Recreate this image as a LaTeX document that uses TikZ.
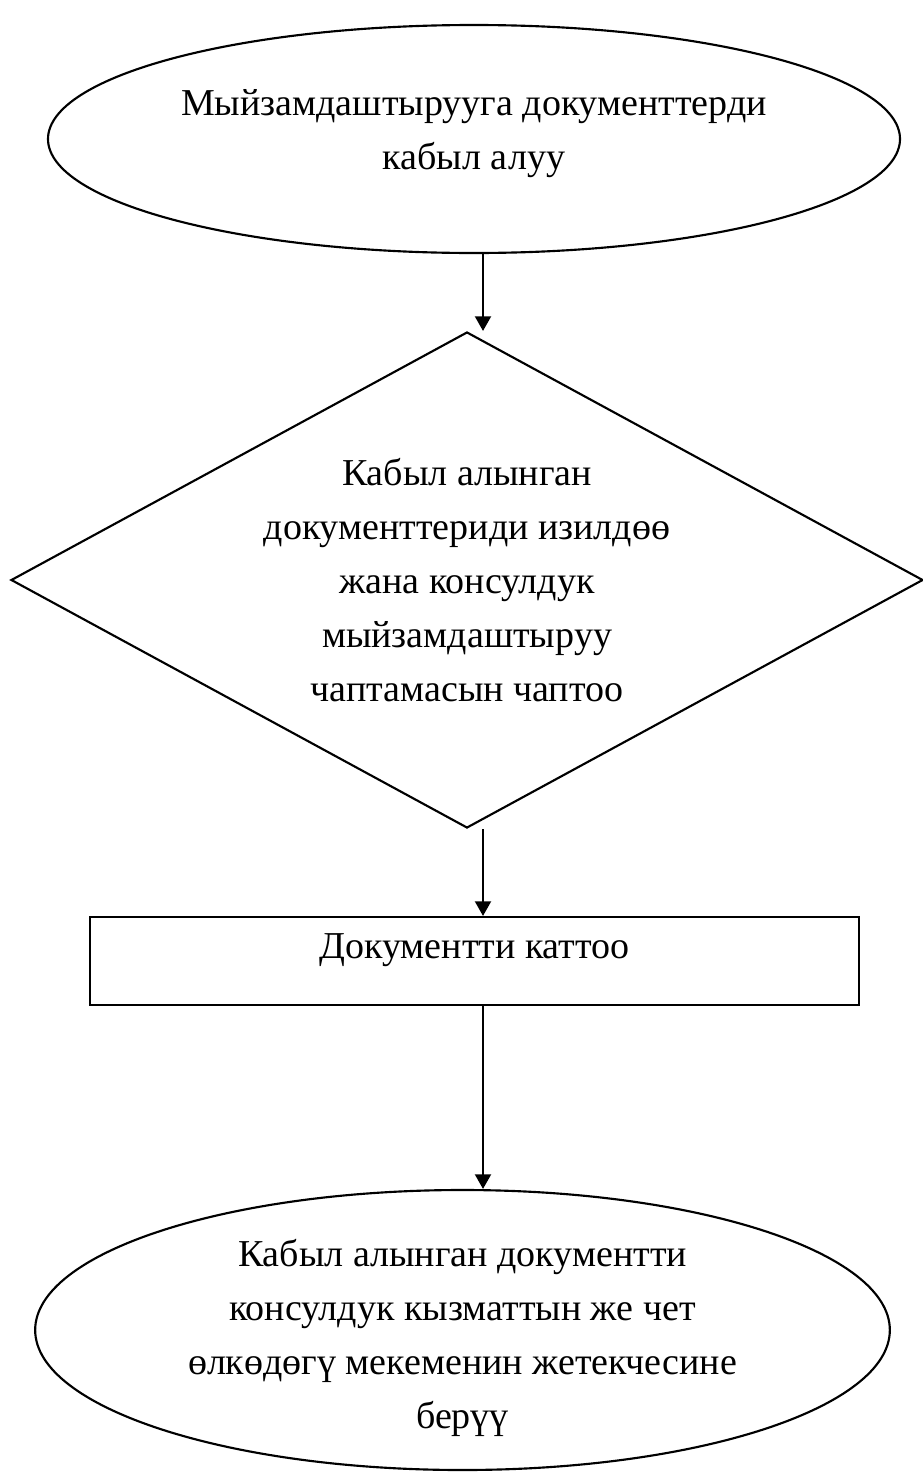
\documentclass[tikz,border=0pt]{standalone}
\usepackage{fontspec}
\setmainfont{Liberation Serif}
\usetikzlibrary{shapes.geometric, arrows.meta}

\tikzset{
  blk/.style={draw, line width=1.6pt, inner sep=0pt, align=center,
    font=\fontsize{28.5}{40.5}\selectfont},
  arr/.style={line width=1.6pt, -{Triangle[length=11pt, width=12pt]}}
}

\begin{document}
\begin{tikzpicture}[x=0.75pt,y=0.75pt,yscale=-1,xscale=1]
%set diagram left start at 0, and has height of 1474
\useasboundingbox (0,0) rectangle (923,1474);
\coordinate (col) at (483,0);

%Shape: Ellipse [id:start]
\node (start) [blk, ellipse, minimum width=639pt, minimum height=171pt, text depth=15pt] at (474,139)
  {Мыйзамдаштырууга документтерди\\кабыл алуу};
%Shape: Diamond [id:check]
\node (check) [blk, diamond, aspect=1.84, minimum width=684pt, minimum height=372pt] at (467,580)
  {Кабыл алынган\\документтериди изилдөө\\жана консулдук\\мыйзамдаштыруу\\чаптамасын чаптоо};
%Shape: Rectangle [id:reg]
\node (reg) [blk, rectangle, minimum width=577pt, minimum height=66pt, text depth=22pt] at (474.5,961)
  {Документти каттоо};
%Shape: Ellipse [id:hand]
\node (hand) [blk, ellipse, inner ysep=-8pt, minimum width=641pt, minimum height=210pt, text height=154pt] at (462.5,1330)
  {Кабыл алынган документти\\консулдук кызматтын же чет\\өлкөдөгү мекеменин жетекчесине\\берүү};

%Straight Lines
\draw [arr] (start.south -| col) -- (check.north -| col);
\draw [arr] (check.south -| col) -- (reg.north -| col);
\draw [arr] (reg.south -| col) -- (hand.north -| col);
\end{tikzpicture}
\end{document}
